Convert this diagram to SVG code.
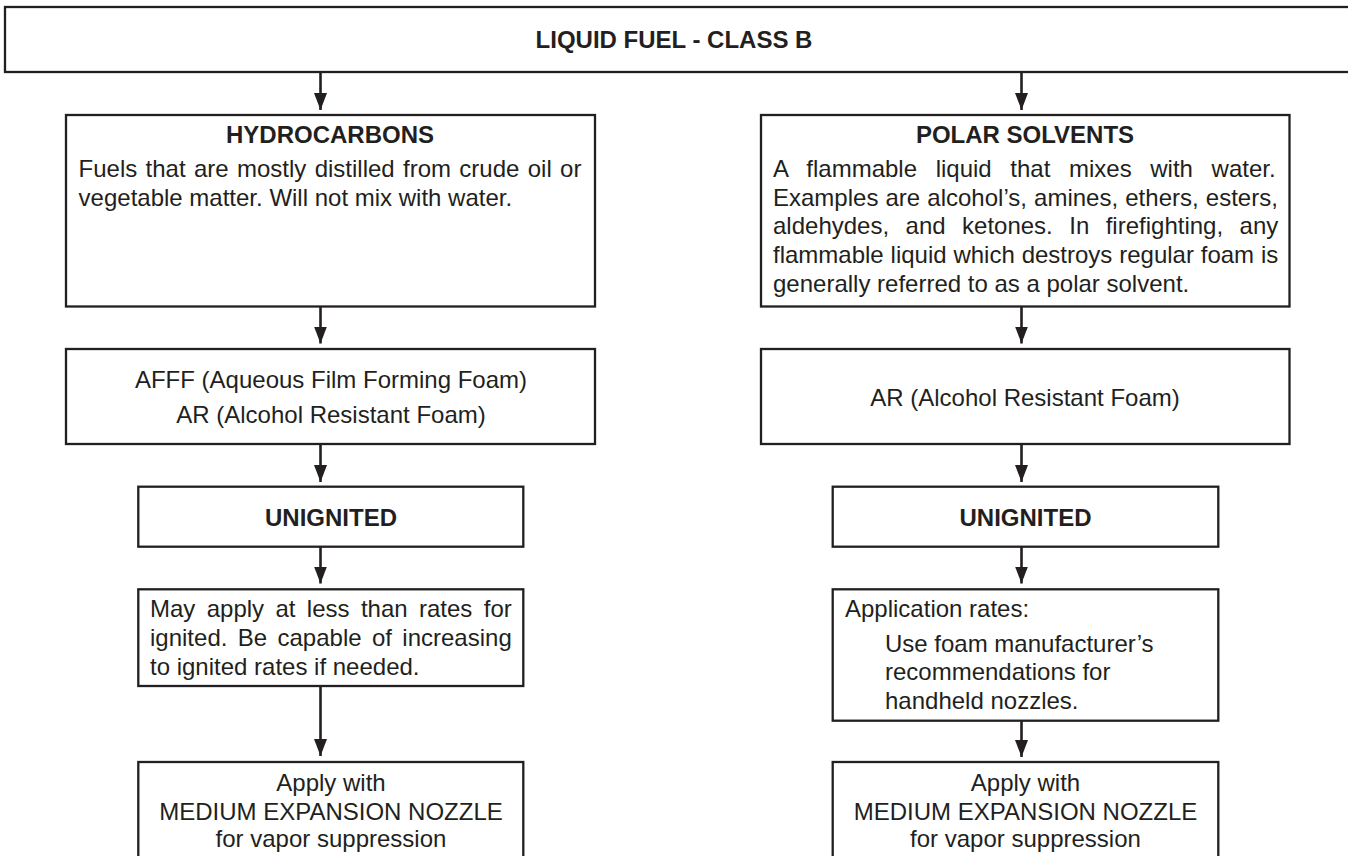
<svg xmlns="http://www.w3.org/2000/svg" width="1348" height="856" viewBox="0 0 1348 856">
<defs>
<style>
.box{fill:#ffffff;stroke:#231f20;stroke-width:2.3}
.t{font-family:"Liberation Sans",Arial,sans-serif;font-size:24px;fill:#231f20}
.b{font-weight:bold}
.c{text-anchor:middle}
.arr{stroke:#231f20;stroke-width:2.6;fill:none}
</style>
<marker id="ah" markerUnits="userSpaceOnUse" markerWidth="18" markerHeight="14" refX="17" refY="6.5" orient="auto">
<path d="M0,0 L17,6.5 L0,13 Z" fill="#231f20"/>
</marker>
</defs>
<rect width="1348" height="856" fill="#ffffff"/>

<g id="connectors">
<line class="arr" x1="320.5" y1="71" x2="320.5" y2="110" marker-end="url(#ah)"/>
<line class="arr" x1="320.5" y1="305" x2="320.5" y2="343.5" marker-end="url(#ah)"/>
<line class="arr" x1="320.5" y1="443" x2="320.5" y2="482" marker-end="url(#ah)"/>
<line class="arr" x1="320.5" y1="546" x2="320.5" y2="583.5" marker-end="url(#ah)"/>
<line class="arr" x1="320.5" y1="685" x2="320.5" y2="756" marker-end="url(#ah)"/>
<line class="arr" x1="1021.5" y1="71" x2="1021.5" y2="110" marker-end="url(#ah)"/>
<line class="arr" x1="1021.5" y1="305" x2="1021.5" y2="343.5" marker-end="url(#ah)"/>
<line class="arr" x1="1021.5" y1="443" x2="1021.5" y2="482" marker-end="url(#ah)"/>
<line class="arr" x1="1021.5" y1="546" x2="1021.5" y2="583.5" marker-end="url(#ah)"/>
<line class="arr" x1="1021.5" y1="717" x2="1021.5" y2="757" marker-end="url(#ah)"/>
</g>

<g id="title">
<rect class="box" x="5" y="7" width="1400" height="65"/>
<text class="t b c" x="674" y="48">LIQUID FUEL - CLASS B</text>
</g>

<g id="hydrocarbons">
<rect class="box" x="66" y="115" width="529" height="191.5"/>
<text class="t b c" x="330" y="143">HYDROCARBONS</text>
<text class="t" x="78.6" y="177.3" word-spacing="1.66">Fuels that are mostly distilled from crude oil or</text>
<text class="t" x="78.6" y="206">vegetable matter. Will not mix with water.</text>
</g>

<g id="afff">
<rect class="box" x="66" y="349" width="529" height="95"/>
<text class="t c" x="331" y="388.3">AFFF (Aqueous Film Forming Foam)</text>
<text class="t c" x="331" y="423.3">AR (Alcohol Resistant Foam)</text>
</g>

<g id="unignited-left">
<rect class="box" x="138.3" y="486.7" width="385" height="60"/>
<text class="t b c" x="331" y="526">UNIGNITED</text>
</g>

<g id="may-apply">
<rect class="box" x="138.3" y="589.3" width="385" height="96.7"/>
<text class="t" x="150" y="617" word-spacing="4.71">May apply at less than rates for</text>
<text class="t" x="150" y="646" word-spacing="3.71">ignited. Be capable of increasing</text>
<text class="t" x="150" y="675">to ignited rates if needed.</text>
</g>

<g id="apply-left">
<rect class="box" x="138.3" y="762" width="385" height="120"/>
<text class="t c" x="331" y="790.7">Apply with</text>
<text class="t c" x="331" y="820">MEDIUM EXPANSION NOZZLE</text>
<text class="t c" x="331" y="847">for vapor suppression</text>
</g>

<g id="polar-solvents">
<rect class="box" x="761" y="115" width="528.5" height="191.5"/>
<text class="t b c" x="1025" y="143">POLAR SOLVENTS</text>
<text class="t" x="773" y="177.3" word-spacing="11.96">A flammable liquid that mixes with water.</text>
<text class="t" x="773" y="206" word-spacing="0.47">Examples are alcohol’s, amines, ethers, esters,</text>
<text class="t" x="773" y="234.3" word-spacing="9.79">aldehydes, and ketones. In firefighting, any</text>
<text class="t" x="773" y="263.3" word-spacing="0.18">flammable liquid which destroys regular foam is</text>
<text class="t" x="773" y="292.3">generally referred to as a polar solvent.</text>
</g>

<g id="ar-right">
<rect class="box" x="761" y="349" width="528.5" height="95"/>
<text class="t c" x="1025" y="406">AR (Alcohol Resistant Foam)</text>
</g>

<g id="unignited-right">
<rect class="box" x="832.7" y="486.7" width="385.6" height="60"/>
<text class="t b c" x="1025.5" y="526">UNIGNITED</text>
</g>

<g id="application-rates">
<rect class="box" x="832.7" y="589.3" width="385.6" height="131.4"/>
<text class="t" x="845" y="617.3">Application rates:</text>
<text class="t" x="885" y="651.7">Use foam manufacturer’s</text>
<text class="t" x="885" y="680">recommendations for</text>
<text class="t" x="885" y="709.3">handheld nozzles.</text>
</g>

<g id="apply-right">
<rect class="box" x="832.7" y="762" width="385.6" height="120"/>
<text class="t c" x="1025.5" y="790.7">Apply with</text>
<text class="t c" x="1025.5" y="820">MEDIUM EXPANSION NOZZLE</text>
<text class="t c" x="1025.5" y="847">for vapor suppression</text>
</g>
</svg>
